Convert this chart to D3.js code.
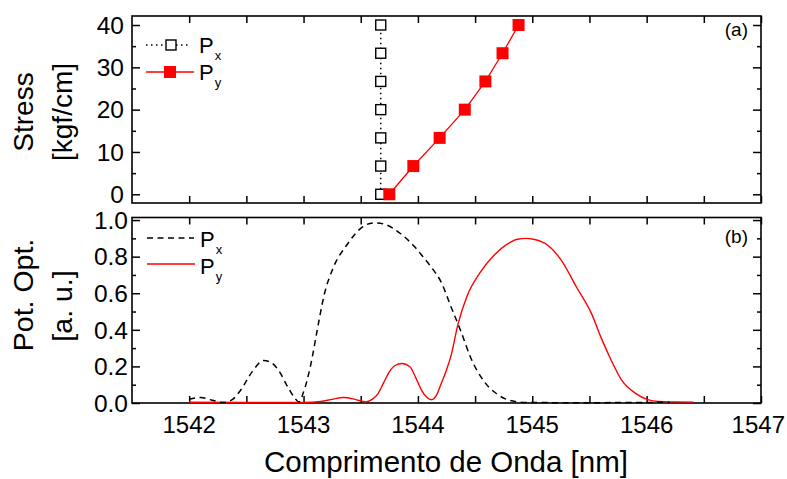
<!DOCTYPE html>
<html>
<head>
<meta charset="utf-8">
<script src="https://cdn.jsdelivr.net/npm/d3@7"></script>
<style>
  html, body { margin: 0; padding: 0; background: #fff; }
  svg { display: block; font-family: "Liberation Sans", Arial, sans-serif; }
</style>
</head>
<body>
<svg id="chart" width="787" height="479"></svg>
<script>
// ---------- data ----------
const stressLevels = [0, 6.67, 13.33, 20, 26.67, 33.33, 40];
const pxPeakWl = [1543.675, 1543.675, 1543.675, 1543.675, 1543.675, 1543.675, 1543.675];
const pyPeakWl = [1543.75, 1543.96, 1544.19, 1544.41, 1544.59, 1544.74, 1544.88];

const pxSpecWl = [1542.00, 1542.10, 1542.20, 1542.30, 1542.38, 1542.45, 1542.55, 1542.65, 1542.72, 1542.78,
  1542.86, 1542.92, 1542.96, 1543.00, 1543.06, 1543.12, 1543.18, 1543.26, 1543.38, 1543.50,
  1543.62, 1543.72, 1543.85, 1543.97, 1544.05, 1544.12, 1544.20, 1544.29, 1544.38, 1544.46, 1544.58,
  1544.70, 1544.82, 1544.95, 1545.20, 1545.60, 1546.00, 1546.20];
const pxSpecVal = [0.020, 0.030, 0.015, 0.003, 0.020, 0.070, 0.170, 0.232, 0.220, 0.180,
  0.090, 0.030, 0.006, 0.060, 0.200, 0.400, 0.590, 0.740, 0.865, 0.955,
  0.985, 0.975, 0.925, 0.855, 0.795, 0.740, 0.665, 0.525, 0.385, 0.250, 0.117,
  0.045, 0.012, 0.003, 0.002, 0.002, 0.003, 0.004];

const pySpecWl = [1542.00, 1542.50, 1543.00, 1543.15, 1543.25, 1543.35, 1543.45, 1543.54, 1543.60, 1543.65,
  1543.70, 1543.75, 1543.80, 1543.86, 1543.93, 1543.98, 1544.03, 1544.08, 1544.12, 1544.16,
  1544.20, 1544.25, 1544.29, 1544.35, 1544.43, 1544.54, 1544.67, 1544.78, 1544.87, 1544.95,
  1545.01, 1545.13, 1545.25, 1545.39, 1545.52, 1545.60, 1545.69, 1545.78, 1545.90, 1546.01,
  1546.10, 1546.25, 1546.41];
const pySpecVal = [0.004, 0.003, 0.003, 0.008, 0.020, 0.030, 0.020, 0.006, 0.020, 0.050,
  0.110, 0.170, 0.205, 0.216, 0.198, 0.140, 0.072, 0.030, 0.018, 0.040,
  0.100, 0.180, 0.260, 0.430, 0.585, 0.710, 0.810, 0.868, 0.895, 0.900,
  0.895, 0.865, 0.784, 0.630, 0.486, 0.360, 0.234, 0.126, 0.054, 0.018,
  0.008, 0.006, 0.005];

const xTickLabels = [1542, 1543, 1544, 1545, 1546, 1547];
const stressTickLabels = [0, 10, 20, 30, 40];
const powerTickLabels = [0.0, 0.2, 0.4, 0.6, 0.8, 1.0];

// ---------- layout ----------
const svg = d3.select("#chart");
const W = 787;
const L = 132, R = 761;
const topP = { t: 16, b: 203 };
const botP = { t: 217.5, b: 403 };
const font = "\"Liberation Sans\", Arial, sans-serif";

const x = d3.scaleLinear().domain([1541.5, 1547]).range([L, R]);
const yS = d3.scaleLinear().domain([-2.06, 42.13]).range([topP.b, topP.t]);
const yP = d3.scaleLinear().domain([0, 1.014]).range([botP.b, botP.t]);

function frame(panel, yScale, majorTicks, minorTicks, fmt, labelRight) {
  const g = svg.append("g");
  const xt = d3.range(1542, 1547.01, 0.5);
  g.append("g").attr("transform", `translate(0,${panel.b})`)
    .call(d3.axisBottom(x).tickValues(xt).tickSize(-7).tickFormat(""))
    .call(a => a.select(".domain").remove());
  g.append("g").attr("transform", `translate(0,${panel.t})`)
    .call(d3.axisTop(x).tickValues(xt).tickSize(-7).tickFormat(""))
    .call(a => a.select(".domain").remove());
  g.append("g").attr("transform", `translate(${L},0)`)
    .call(d3.axisLeft(yScale).tickValues(majorTicks).tickSize(-8).tickFormat(""))
    .call(a => a.select(".domain").remove());
  g.append("g").attr("transform", `translate(${L},0)`)
    .call(d3.axisLeft(yScale).tickValues(minorTicks).tickSize(-4).tickFormat(""))
    .call(a => a.select(".domain").remove());
  g.append("g").attr("transform", `translate(${R},0)`)
    .call(d3.axisRight(yScale).tickValues(majorTicks).tickSize(-8).tickFormat(""))
    .call(a => a.select(".domain").remove());
  g.append("g").attr("transform", `translate(${R},0)`)
    .call(d3.axisRight(yScale).tickValues(minorTicks).tickSize(-4).tickFormat(""))
    .call(a => a.select(".domain").remove());
  g.selectAll(".tick line").attr("stroke", "#000").attr("stroke-width", 1.5);
  g.selectAll("text.yl").data(majorTicks).enter().append("text")
    .attr("x", labelRight).attr("y", d => yScale(d))
    .attr("dy", "0.36em").attr("text-anchor", "end")
    .attr("font-family", font).attr("font-size", 24.5)
    .text(fmt);
  g.append("rect").attr("x", L).attr("y", panel.t)
    .attr("width", R - L).attr("height", panel.b - panel.t)
    .attr("fill", "none").attr("stroke", "#000").attr("stroke-width", 1.6);
  return g;
}

frame(topP, yS, stressTickLabels, [5, 15, 25, 35], d => d3.format("d")(d), 124);
frame(botP, yP, powerTickLabels, [0.1, 0.3, 0.5, 0.7, 0.9], d => d3.format(".1f")(d), 128);

// x tick labels (kept inside the picture at the right edge)
svg.selectAll("text.xl").data(xTickLabels).enter().append("text")
  .attr("y", 433)
  .attr("text-anchor", "middle").attr("font-family", font).attr("font-size", 24)
  .text(d => d)
  .attr("x", function (d) {
    const half = this.getComputedTextLength() / 2;
    return Math.min(x(d), W - 2 - half);
  });

function rotText(t, cx, cy, size) {
  svg.append("text").attr("transform", `translate(${cx},${cy}) rotate(-90)`)
    .attr("text-anchor", "middle").attr("font-family", font).attr("font-size", size).text(t);
}
rotText("Stress", 33, 112, 28);
rotText("[kgf/cm]", 72, 112, 28);
rotText("Pot. Opt.", 33, 295, 28.5);
rotText("[a. u.]", 72, 306, 28.5);
svg.append("text").attr("x", 446).attr("y", 472).attr("text-anchor", "middle")
  .attr("font-family", font).attr("font-size", 29.5).text("Comprimento de Onda [nm]");

svg.append("text").attr("x", 748).attr("y", 36).attr("text-anchor", "end")
  .attr("font-family", font).attr("font-size", 19).text("(a)");
svg.append("text").attr("x", 748).attr("y", 243).attr("text-anchor", "end")
  .attr("font-family", font).attr("font-size", 19).text("(b)");

// ---------- panel (a) ----------
const pxPts = stressLevels.map((s, i) => [pxPeakWl[i], s]);
const pyPts = stressLevels.map((s, i) => [pyPeakWl[i], s]);
const lineA = d3.line().x(d => x(d[0])).y(d => yS(d[1]));
svg.append("path").attr("d", lineA(pxPts)).attr("fill", "none")
  .attr("stroke", "#000").attr("stroke-width", 1.5).attr("stroke-dasharray", "1.5,3.5");
svg.append("path").attr("d", lineA(pyPts)).attr("fill", "none")
  .attr("stroke", "#ff0000").attr("stroke-width", 1.3);
const ms = 10;
svg.selectAll("rect.px").data(pxPts).enter().append("rect")
  .attr("x", d => x(d[0]) - ms / 2).attr("y", d => yS(d[1]) - ms / 2)
  .attr("width", ms).attr("height", ms)
  .attr("fill", "#fff").attr("stroke", "#000").attr("stroke-width", 1.4);
svg.selectAll("rect.py").data(pyPts).enter().append("rect")
  .attr("x", d => x(d[0]) - 6).attr("y", d => yS(d[1]) - 6)
  .attr("width", 12).attr("height", 12)
  .attr("fill", "#ff0000").attr("stroke", "none");

function legendText(px, py, sub, subDy) {
  const t = svg.append("text").attr("x", px).attr("y", py)
    .attr("font-family", font).attr("font-size", 22);
  t.append("tspan").text("P");
  t.append("tspan").attr("font-size", 13).attr("dx", 1).attr("dy", subDy).text(sub);
}
svg.append("line").attr("x1", 146).attr("x2", 191).attr("y1", 45).attr("y2", 45)
  .attr("stroke", "#000").attr("stroke-width", 1.5).attr("stroke-dasharray", "1.5,3.5");
svg.append("rect").attr("x", 166).attr("y", 40).attr("width", 10).attr("height", 10)
  .attr("fill", "#fff").attr("stroke", "#000").attr("stroke-width", 1.4);
legendText(199, 52.5, "x", 7.5);
svg.append("line").attr("x1", 146).attr("x2", 194).attr("y1", 72).attr("y2", 72)
  .attr("stroke", "#ff0000").attr("stroke-width", 1.3);
svg.append("rect").attr("x", 164).attr("y", 66).attr("width", 12).attr("height", 12)
  .attr("fill", "#ff0000");
legendText(199, 79.5, "y", 7.5);

// ---------- panel (b) ----------
const lineB = d3.line().x(d => x(d[0])).y(d => yP(d[1])).curve(d3.curveMonotoneX);
const pxSpec = pxSpecWl.map((w, i) => [w, pxSpecVal[i]]);
const pySpec = pySpecWl.map((w, i) => [w, pySpecVal[i]]);
svg.append("path").attr("d", lineB(pySpec)).attr("fill", "none")
  .attr("stroke", "#ff0000").attr("stroke-width", 1.4);
svg.append("path").attr("d", lineB(pxSpec)).attr("fill", "none")
  .attr("stroke", "#000").attr("stroke-width", 1.5).attr("stroke-dasharray", "6,4.5");

svg.append("line").attr("x1", 147).attr("x2", 194).attr("y1", 238).attr("y2", 238)
  .attr("stroke", "#000").attr("stroke-width", 1.5).attr("stroke-dasharray", "6,4.5");
legendText(200, 246.5, "x", 7.5);
svg.append("line").attr("x1", 147).attr("x2", 195).attr("y1", 264).attr("y2", 264)
  .attr("stroke", "#ff0000").attr("stroke-width", 1.4);
legendText(200, 273.5, "y", 7.5);
</script>
</body>
</html>
